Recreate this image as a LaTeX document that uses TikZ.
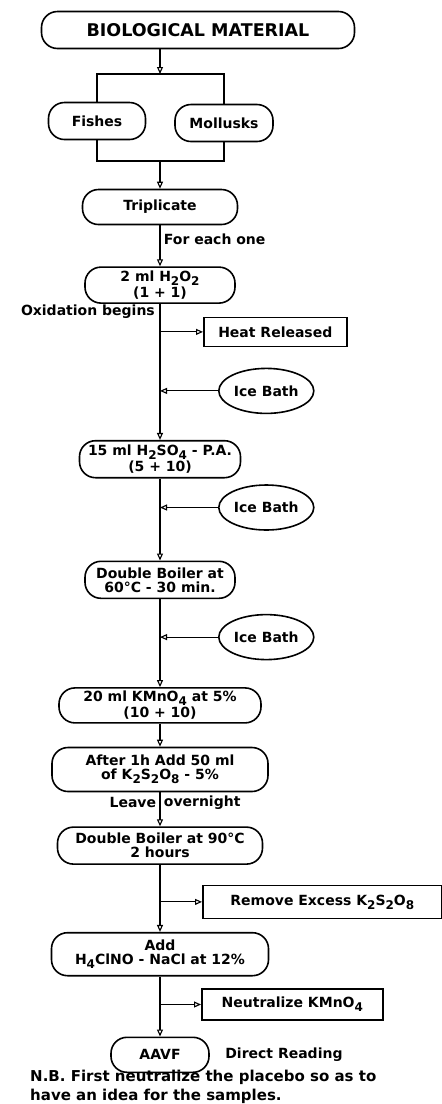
\documentclass[tikz,border=0pt]{standalone}
\usepackage{fontspec}
\setmainfont{DejaVu Sans}
\usetikzlibrary{arrows.meta,positioning,shapes.geometric}
\newcommand{\lowsub}[1]{\raisebox{-4pt}{\fontsize{12}{12}\selectfont #1}}
\tikzset{
  flow/.style={-{Triangle[open,length=7pt,width=6pt]}, line width=1.1pt},
  wire/.style={line width=1.1pt},
  stepbox/.style={rounded corners=16pt, draw, line width=1.6pt, align=center, inner sep=2pt, minimum height=36pt},
  sidebox/.style={draw, line width=1.6pt, align=center, inner sep=3pt},
  icebox/.style={ellipse, draw, line width=1.6pt, inner sep=0pt, minimum width=95pt, minimum height=45pt}
}

\begin{document}
\begin{tikzpicture}[x=1pt, y=-1pt, font=\bfseries\fontsize{14}{14}\selectfont]
  \useasboundingbox (0,0) rectangle (442,1104);

  % source and the two sample groups
  \node[stepbox, minimum width=313pt, minimum height=37pt, font=\bfseries\fontsize{17.5}{18}\selectfont] (bio) at (198,30) {BIOLOGICAL MATERIAL};
  \node[stepbox, minimum width=97pt, minimum height=37pt] (fish) at (97,121) {Fishes};
  \node[stepbox, minimum width=98pt, minimum height=37pt] (moll) at (224,123) {Mollusks};
  \node[stepbox, minimum width=155pt, minimum height=35pt] (trip) at (160,207) {Triplicate};

  % main chain
  \node[stepbox, minimum width=150pt, below=41pt of trip] (hoo) {2 ml H\lowsub{2}O\lowsub{2}\\(1 + 1)};
  \node[stepbox, minimum width=161pt, minimum height=37pt, below=136pt of hoo] (hso) {15 ml H\lowsub{2}SO\lowsub{4} - P.A.\\(5 + 10)};
  \node[stepbox, minimum width=150pt, minimum height=37pt, below=82pt of hso] (dbs) {Double Boiler at\\60°C - 30 min.};
  \node[stepbox, minimum width=202pt, minimum height=35pt, below=88pt of dbs] (kmn) {20 ml KMnO\lowsub{4} at 5\%\\(10 + 10)};
  \node[stepbox, minimum width=216pt, minimum height=44pt, below=23pt of kmn] (kso) {After 1h Add 50 ml\\of K\lowsub{2}S\lowsub{2}O\lowsub{8} - 5\%};
  \node[stepbox, minimum width=205pt, minimum height=37pt, below=34pt of kso] (dbn) {Double Boiler at 90°C\\2 hours};
  \node[stepbox, minimum width=217pt, minimum height=43pt, below=67pt of dbn] (add) {Add\\H\lowsub{4}ClNO - NaCl at 12\%};
  \node[stepbox, minimum width=98pt, minimum height=35pt, below=60pt of add] (aavf) {AAVF};
  \node[right=12pt of aavf] (read) {Direct Reading};

  % junctions on the trunk
  \coordinate (jt) at (160,74);
  \coordinate (jb) at (160,161);
  \coordinate[below=28pt of hoo.south] (hj);
  \coordinate[below=87pt of hoo.south] (ij1);
  \coordinate[below=29pt of hso.south] (ij2);
  \coordinate[below=38pt of dbs.south] (ij3);
  \coordinate[below=37pt of dbn.south] (rj);
  \coordinate[below=28pt of add.south] (nj);

  % side boxes
  \node[sidebox, minimum width=143pt, minimum height=29pt, right=43pt of hj] (heat) {Heat Released};
  \node[icebox, right=58pt of ij1] (ice1) {Ice Bath};
  \node[icebox, right=58pt of ij2] (ice2) {Ice Bath};
  \node[icebox, right=58pt of ij3] (ice3) {Ice Bath};
  \node[sidebox, minimum width=239pt, minimum height=33pt, right=42pt of rj] (rem) {Remove Excess K\lowsub{2}S\lowsub{2}O\lowsub{8}};
  \node[sidebox, minimum width=181pt, minimum height=31pt, right=41pt of nj] (neut) {Neutralize KMnO\lowsub{4}};

  \node[anchor=north east, inner sep=1pt] (oxi) at ([xshift=-4pt]hoo.south) {Oxidation begins};
  \node[anchor=north west, align=left, inner sep=0pt, font=\bfseries\fontsize{15}{19}\selectfont] (nb) at (30,1070)
    {N.B. First neutralize the placebo so as to\\have an idea for the samples.};

  % connectors
  \draw[flow] (bio.south -| jt) -- (jt);
  \draw[wire] (fish.north) |- (jt) -| (moll.north);
  \draw[wire] (fish.south) |- (jb) -| (moll.south);
  \draw[flow] (jb) -- (trip);
  \draw[flow] (trip) -- node[right, pos=0.35]{For each one} (hoo);
  \draw[flow] (hoo) -- (hso);
  \draw[flow] (hj) -- (heat);
  \draw[flow] (ice1) -- (ij1);
  \draw[flow] (hso) -- (dbs);
  \draw[flow] (ice2) -- (ij2);
  \draw[flow] (dbs) -- (kmn);
  \draw[flow] (ice3) -- (ij3);
  \draw[flow] (kmn) -- (kso);
  \draw[flow] (kso) -- node[left, pos=0.3]{Leave} node[right, pos=0.3]{overnight} (dbn);
  \draw[flow] (dbn) -- (add);
  \draw[flow] (rj) -- (rem);
  \draw[flow] (add) -- (aavf);
  \draw[flow] (nj) -- (neut);
\end{tikzpicture}
\end{document}
